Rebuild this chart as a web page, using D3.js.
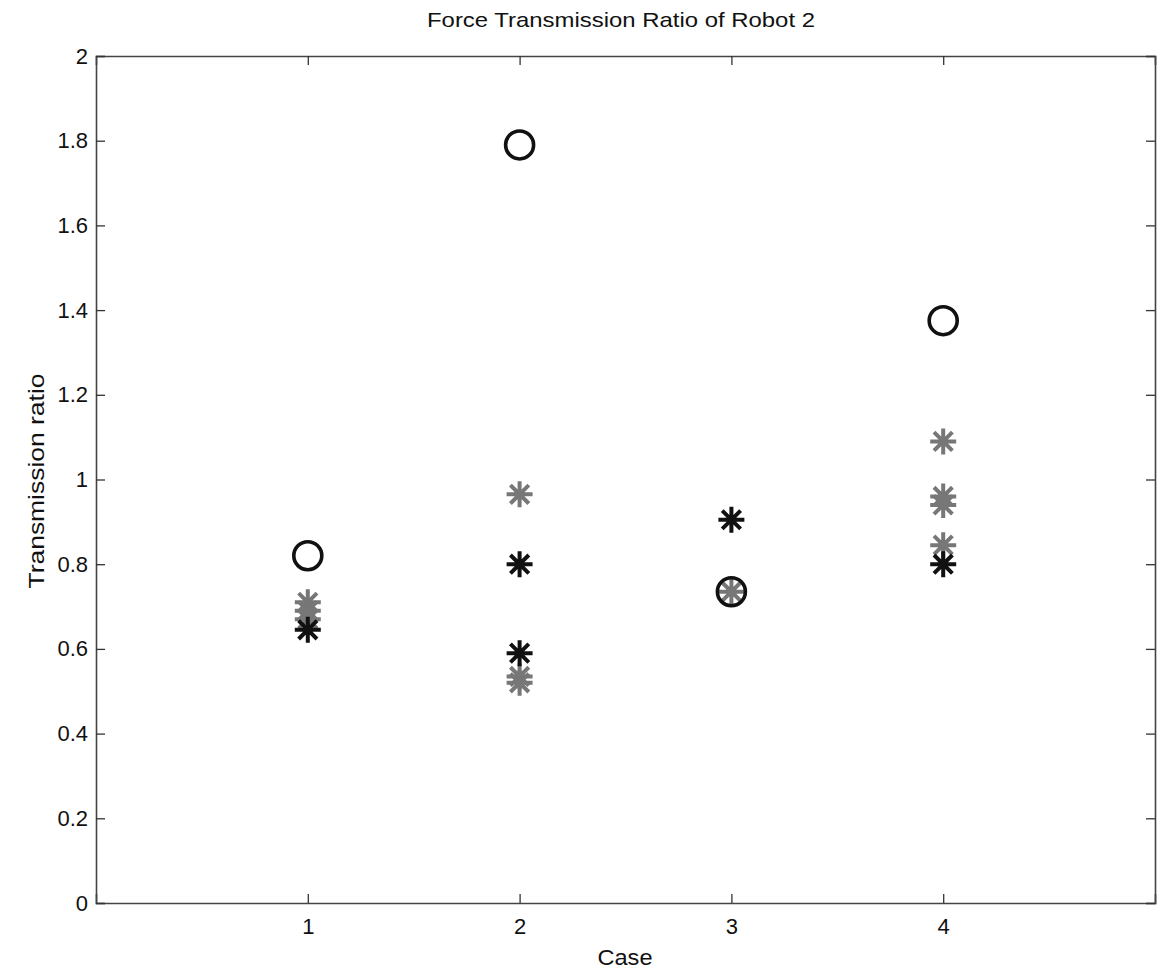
<!DOCTYPE html>
<html>
<meta charset="utf-8">
<style>
body { margin: 0; background: #fff; font-family: "Liberation Sans", Arial, sans-serif; }
.axis text { font-size: 22px; fill: #111; font-family: "Liberation Sans", Arial, sans-serif; }
</style>
<body>
<script src="https://d3js.org/d3.v7.min.js"></script>
<script>
// data
var cases = [1, 2, 3, 4];
var yTicks = [0, 0.2, 0.4, 0.6, 0.8, 1, 1.2, 1.4, 1.6, 1.8, 2];
var circleVals = [0.82, 1.79, 0.735, 1.375];            // one per case
var grayCase = [1, 1, 1, 2, 2, 2, 3, 4, 4, 4, 4];
var grayVals = [0.71, 0.69, 0.67, 0.965, 0.535, 0.52, 0.735, 1.09, 0.96, 0.94, 0.845];
var blackCase = [1, 2, 2, 3, 4];
var blackVals = [0.645, 0.80, 0.59, 0.905, 0.80];

var W = 1164, H = 970;
var margin = {top: 56, right: 9, bottom: 67, left: 96};
var width = W - margin.left - margin.right,
    height = H - margin.top - margin.bottom;

var svg = d3.select("body").append("svg")
    .attr("width", W)
    .attr("height", H);

var g = svg.append("g")
    .attr("transform", "translate(" + margin.left + "," + margin.top + ")");

var x = d3.scaleLinear().domain([0, 5]).range([0, width]);
var y = d3.scaleLinear().domain([0, 2]).range([height, 0]);

var fmt = function(d) { return d === 0 || d === 1 || d === 2 ? String(d) : d.toFixed(1); };

// axes, ticks pointing inward like matlab
g.append("g").attr("class", "axis")
    .attr("transform", "translate(0," + height + ")")
    .call(d3.axisBottom(x).tickValues(cases).tickSize(-9).tickPadding(15).tickFormat(d3.format("d")));
g.append("g").attr("class", "axis")
    .call(d3.axisTop(x).tickValues(cases).tickSize(-9).tickFormat(""));
g.append("g").attr("class", "axis")
    .call(d3.axisLeft(y).tickValues(yTicks).tickSize(-9).tickPadding(8).tickFormat(fmt));
g.append("g").attr("class", "axis")
    .attr("transform", "translate(" + width + ",0)")
    .call(d3.axisRight(y).tickValues(yTicks).tickSize(-9).tickFormat(""));

g.selectAll(".axis path").attr("stroke", "#444").attr("stroke-width", 1.6);
g.selectAll(".axis line").attr("stroke", "#333").attr("stroke-width", 1.3);

// asterisk marker, + and x together
function star(r) {
  var d = r * Math.SQRT1_2;
  return "M" + (-r) + ",0L" + r + ",0M0," + (-r) + "L0," + r +
         "M" + (-d) + "," + (-d) + "L" + d + "," + d +
         "M" + (-d) + "," + d + "L" + d + "," + (-d);
}

var grayData = grayVals.map(function(v, i) { return {c: grayCase[i], v: v}; });
var blackData = blackVals.map(function(v, i) { return {c: blackCase[i], v: v}; });

g.selectAll(".gstar").data(grayData).enter().append("path")
    .attr("class", "gstar")
    .attr("d", star(13))
    .attr("transform", function(d) { return "translate(" + x(d.c) + "," + y(d.v) + ")"; })
    .attr("fill", "none")
    .attr("stroke", "#777")
    .attr("stroke-width", 4);

g.selectAll(".bstar").data(blackData).enter().append("path")
    .attr("class", "bstar")
    .attr("d", star(13))
    .attr("transform", function(d) { return "translate(" + x(d.c) + "," + y(d.v) + ")"; })
    .attr("fill", "none")
    .attr("stroke", "#111")
    .attr("stroke-width", 4);

g.selectAll(".circ").data(circleVals).enter().append("circle")
    .attr("class", "circ")
    .attr("cx", function(d, i) { return x(cases[i]); })
    .attr("cy", function(d) { return y(d); })
    .attr("r", 14)
    .attr("fill", "none")
    .attr("stroke", "#111")
    .attr("stroke-width", 3.6);

// labels
svg.append("text")
    .attr("x", 621).attr("y", 27)
    .attr("text-anchor", "middle")
    .attr("textLength", 388).attr("lengthAdjust", "spacingAndGlyphs")
    .style("font-size", "21px").style("fill", "#111")
    .text("Force Transmission Ratio of Robot 2");

svg.append("text")
    .attr("x", 625).attr("y", 965)
    .attr("text-anchor", "middle")
    .attr("textLength", 55).attr("lengthAdjust", "spacingAndGlyphs")
    .style("font-size", "22px").style("fill", "#111")
    .text("Case");

svg.append("text")
    .attr("transform", "translate(44," + 481 + ") rotate(-90)")
    .attr("text-anchor", "middle")
    .attr("textLength", 215).attr("lengthAdjust", "spacingAndGlyphs")
    .style("font-size", "22px").style("fill", "#111")
    .text("Transmission ratio");
</script>
</body>
</html>
